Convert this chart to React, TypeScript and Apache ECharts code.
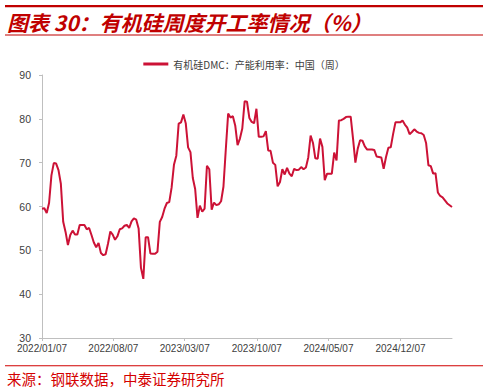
import React, { useEffect, useRef } from "react";
import * as echarts from "echarts";

const TITLE = "图表 30：有机硅周度开工率情况（%）";
const SOURCE = "来源：钢联数据，中泰证券研究所";
const SERIES_NAME = "有机硅DMC：产能利用率：中国（周）";

// Weekly observations starting 2022/01/07
const START_DATE = "2022-01-07";
const AXIS_END_DATE = "2025-05-09";
const TICK_DATES = ["2022-01-07", "2022-08-07", "2023-03-07", "2023-10-07", "2024-05-07", "2024-12-07"];
const Y_MIN = 30;
const Y_MAX = 90;
const Y_STEP = 10;

const utilization: number[] = [
  59.5, 59.6, 58.5, 60.8, 67.1, 69.9, 69.8, 68.3, 65.2, 56.5,
  54.2, 51.2, 53.5, 54.5, 53.6, 53.6, 55.8, 55.8, 55.8, 54.8,
  55.1, 53.5, 51.8, 50.7, 51.7, 49.4, 48.9, 49.1, 51.5, 54.3,
  53.6, 52.4, 53.2, 54.8, 55.0, 55.6, 55.8, 55.1, 56.6, 57.3,
  57.0, 55.0, 46.0, 43.5, 53.0, 53.0, 49.3, 49.2, 49.2, 49.7,
  56.5, 57.6, 59.5, 60.8, 61.0, 64.3, 69.5, 71.6, 78.9, 79.2,
  81.0, 79.0, 73.5, 72.4, 66.5, 64.0, 57.4, 60.2, 58.8, 59.5,
  69.3, 68.5, 59.3, 60.9, 60.3, 60.5, 61.2, 64.5, 73.0, 81.2,
  80.3, 80.6, 78.5, 74.0, 75.5, 77.8, 84.0, 83.9, 80.2, 79.3,
  79.0, 82.3, 75.9, 75.9, 76.0, 77.2, 72.8, 72.7, 70.0, 69.5,
  64.6, 65.6, 68.5, 67.3, 68.8, 67.5, 66.9, 68.6, 68.3, 68.4,
  69.0, 68.5, 68.9, 71.2, 76.2, 74.5, 71.0, 70.9, 75.5, 73.6,
  66.0, 67.5, 67.5, 67.5, 72.3, 70.5, 79.6, 79.7, 80.0, 80.4,
  80.5, 80.5, 75.5, 70.0, 73.2, 75.1, 75.0, 73.7, 73.0, 73.0,
  73.0, 72.9, 71.4, 71.3, 71.2, 68.6, 71.3, 73.4, 73.5, 76.5,
  79.2, 79.2, 79.2, 79.6, 78.7, 78.0, 76.5, 77.0, 77.6, 77.1,
  76.8, 76.7, 76.3, 74.5, 69.4, 69.2, 67.5, 67.6, 63.2, 62.4,
  62.1, 61.4, 60.7, 60.3, 59.9,
];

const DAY = 24 * 3600 * 1000;
const toTs = (s: string) => {
  const [y, m, d] = s.split("-").map(Number);
  return Date.UTC(y, m - 1, d);
};
const startTs = toTs(START_DATE);
const weeks: number[] = utilization.map((_, i) => startTs + i * 7 * DAY);

const fmt = (ts: number) => {
  const d = new Date(ts);
  const mm = String(d.getUTCMonth() + 1).padStart(2, "0");
  const dd = String(d.getUTCDate()).padStart(2, "0");
  return `${d.getUTCFullYear()}/${mm}/${dd}`;
};

export default function App() {
  const ref = useRef<HTMLDivElement>(null);
  useEffect(() => {
    if (!ref.current) return;
    const chart = echarts.init(ref.current, undefined, { renderer: "svg" });
    const tickTs = TICK_DATES.map(toTs);
    chart.setOption({
      animation: false,
      backgroundColor: "#ffffff",
      grid: { left: 42, right: 36, top: 75, bottom: 51, containLabel: false },
      legend: {
        show: true,
        top: 54,
        left: "center",
        icon: "rect",
        itemWidth: 25,
        itemHeight: 3,
        itemGap: 10,
        textStyle: { fontSize: 10, color: "#404040", fontFamily: "Noto Sans CJK SC" },
        data: [SERIES_NAME],
      },
      xAxis: {
        type: "value",
        min: startTs,
        max: toTs(AXIS_END_DATE),
        scale: true,
        splitLine: { show: false },
        axisLine: { show: true, lineStyle: { color: "#bfbfbf", width: 1 } },
        axisTick: { show: true, length: 3, lineStyle: { color: "#bfbfbf" }, customValues: tickTs },
        axisLabel: {
          customValues: tickTs,
          formatter: (v: number) => fmt(v),
          fontSize: 10,
          color: "#404040",
          fontFamily: "Liberation Sans, Arial",
          margin: 5,
          hideOverlap: false,
        },
      },
      yAxis: {
        type: "value",
        min: Y_MIN,
        max: Y_MAX,
        interval: Y_STEP,
        splitLine: { show: false },
        axisLine: { show: true, lineStyle: { color: "#bfbfbf", width: 1 } },
        axisTick: { show: true, length: 3, lineStyle: { color: "#bfbfbf" } },
        axisLabel: { fontSize: 10.5, color: "#404040", fontFamily: "Liberation Sans, Arial", margin: 11 },
      },
      series: [
        {
          name: SERIES_NAME,
          type: "line",
          data: weeks.map((t, i) => [t, utilization[i]]),
          showSymbol: false,
          symbol: "none",
          lineStyle: { color: "#cc1236", width: 2 },
          itemStyle: { color: "#cc1236" },
        },
      ],
      graphic: [
        { type: "rect", shape: { x: 5, y: 5, width: 478, height: 2.2 }, style: { fill: "#c00000" } },
        {
          type: "text",
          x: 7,
          y: 22,
          style: {
            text: TITLE,
            fill: "#c00000",
            fontSize: 21,
            fontStyle: "italic",
            fontWeight: "bold",
            fontFamily: "Noto Sans CJK SC",
            verticalAlign: "middle",
          },
        },
        { type: "rect", shape: { x: 5, y: 34.5, width: 478, height: 1 }, style: { fill: "#c00000" } },
        { type: "rect", shape: { x: 5, y: 365.2, width: 478, height: 1 }, style: { fill: "#d00000" } },
        {
          type: "text",
          x: 7,
          y: 378,
          style: {
            text: SOURCE,
            fill: "#d40000",
            fontSize: 14.5,
            fontFamily: "Noto Sans CJK SC",
            verticalAlign: "middle",
          },
        },
      ],
    });
    return () => chart.dispose();
  }, []);
  return (
    <div
      ref={ref}
      style={{ width: 488, height: 389, position: "absolute", left: 0, top: 0 }}
    />
  );
}
